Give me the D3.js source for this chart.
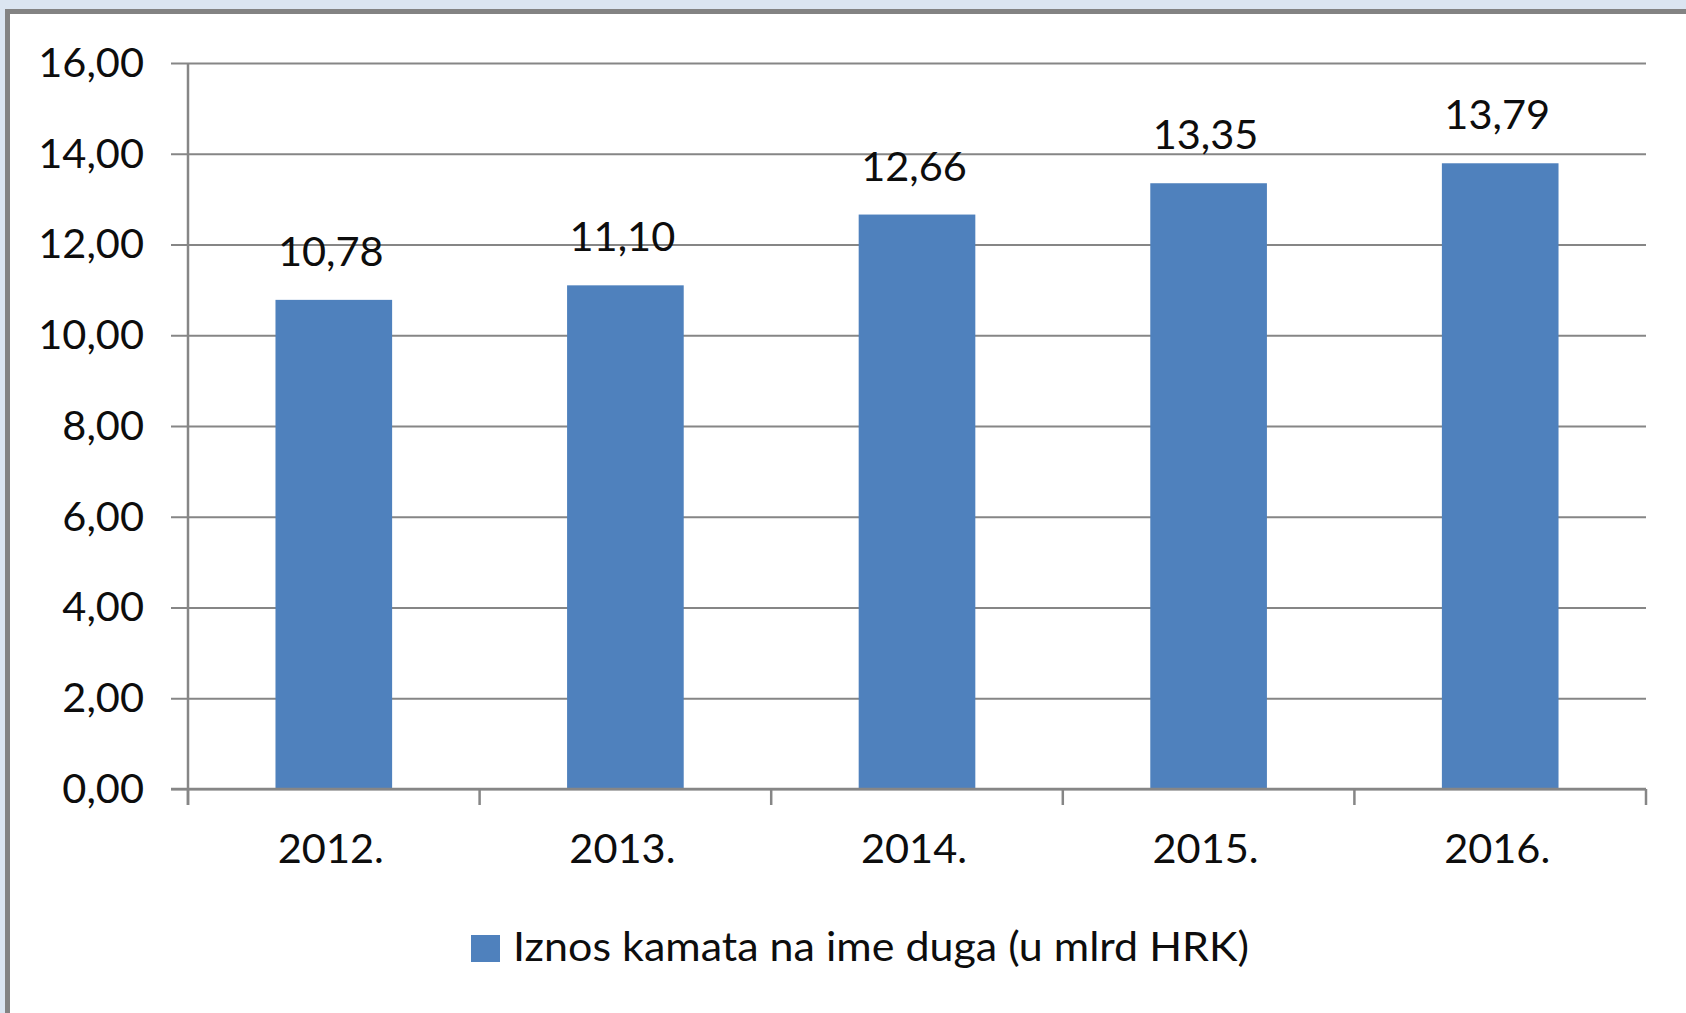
<!DOCTYPE html>
<html>
<head>
<meta charset="utf-8">
<script src="https://cdn.jsdelivr.net/npm/d3@7"></script>
<style>
  html, body { margin: 0; padding: 0; background: #dbe5f1; }
  svg { display: block; font-family: Lato, "Open Sans", sans-serif; }
</style>
</head>
<body>
<script>
// data
const years = ["2012.", "2013.", "2014.", "2015.", "2016."];
const values = [10.78, 11.10, 12.66, 13.35, 13.79];
const yTicks = [0, 2, 4, 6, 8, 10, 12, 14, 16];
const seriesName = "Iznos kamata na ime duga (u mlrd HRK)";

const width = 1686, height = 1013;
const margin = {top: 63, right: 40, bottom: 224, left: 188};
const fontSize = 41.5;
const textColor = "#0d0d0d";
const barColor = "#4f81bd";
const gridColor = "#868686";
const labelShift = -3; // Excel draws the labels a touch left of centre

const fmt = v => d3.format(".2f")(v).replace(".", ",");

const svg = d3.select("body").append("svg")
    .attr("width", width)
    .attr("height", height);

// chart box (cropped at right and bottom in the original)
svg.append("rect")
    .attr("x", 7.5).attr("y", 11.5)
    .attr("width", width + 20).attr("height", height + 20)
    .attr("fill", "#fff")
    .attr("stroke", "#838383")
    .attr("stroke-width", 5);

const x = d3.scaleBand()
    .domain(years)
    .range([margin.left, width - margin.right])
    .paddingInner(0.6)
    .paddingOuter(0.3);

const y = d3.scaleLinear()
    .domain([0, 16])
    .range([height - margin.bottom, margin.top]);

// gridlines + y labels
const yAxis = g => g
    .attr("transform", `translate(${margin.left},0)`)
    .call(d3.axisLeft(y)
        .tickValues(yTicks)
        .tickFormat(fmt)
        .tickSize(17)
        .tickPadding(27))
    .call(g => g.select(".domain").remove())
    .call(g => g.selectAll(".tick line")
        .attr("x2", (width - margin.right) - margin.left)
        .attr("x1", -17)
        .attr("stroke", gridColor)
        .attr("stroke-width", 2))
    .call(g => g.selectAll(".tick text")
        .attr("font-size", fontSize)
        .attr("font-family", "Lato, 'Open Sans', sans-serif")
        .attr("fill", textColor));

svg.append("g").call(yAxis);

// vertical axis line
svg.append("line")
    .attr("x1", margin.left).attr("x2", margin.left)
    .attr("y1", y(16)).attr("y2", y(0) + 16)
    .attr("stroke", gridColor)
    .attr("stroke-width", 2.5);

// bars
svg.append("g")
    .attr("fill", barColor)
  .selectAll("rect")
  .data(values)
  .join("rect")
    .attr("x", (d, i) => x(years[i]))
    .attr("width", x.bandwidth())
    .attr("y", d => y(d))
    .attr("height", d => y(0) - y(d));

// value labels
svg.append("g")
    .attr("font-size", fontSize)
    .attr("fill", textColor)
    .attr("text-anchor", "middle")
  .selectAll("text")
  .data(values)
  .join("text")
    .attr("x", (d, i) => x(years[i]) + x.bandwidth() / 2 + labelShift)
    .attr("y", d => y(d) - 34)
    .text(fmt);

// x axis with ticks between categories
const xAxis = g => g
    .attr("transform", `translate(0,${y(0)})`)
    .call(g => g.append("line")
        .attr("x1", margin.left - 17).attr("x2", width - margin.right)
        .attr("stroke", gridColor).attr("stroke-width", 2.5))
    .call(g => g.selectAll(".sep")
      .data(d3.range(years.length + 1))
      .join("line")
        .attr("class", "sep")
        .attr("x1", i => margin.left + i * (width - margin.right - margin.left) / years.length)
        .attr("x2", i => margin.left + i * (width - margin.right - margin.left) / years.length)
        .attr("y1", 0).attr("y2", 16)
        .attr("stroke", gridColor).attr("stroke-width", 2.5))
    .call(g => g.selectAll(".lab")
      .data(years)
      .join("text")
        .attr("class", "lab")
        .attr("x", d => x(d) + x.bandwidth() / 2 + labelShift)
        .attr("y", 74)
        .attr("text-anchor", "middle")
        .attr("font-size", fontSize)
        .attr("fill", textColor)
        .text(d => d));

svg.append("g").call(xAxis);

// legend
const legend = svg.append("g")
    .attr("transform", "translate(471,935)");

legend.append("rect")
    .attr("width", 29).attr("height", 27)
    .attr("fill", barColor);

legend.append("text")
    .attr("x", 42).attr("y", 26)
    .attr("font-size", fontSize)
    .attr("fill", textColor)
    .attr("textLength", 736)
    .attr("lengthAdjust", "spacingAndGlyphs")
    .text(seriesName);
</script>
</body>
</html>
